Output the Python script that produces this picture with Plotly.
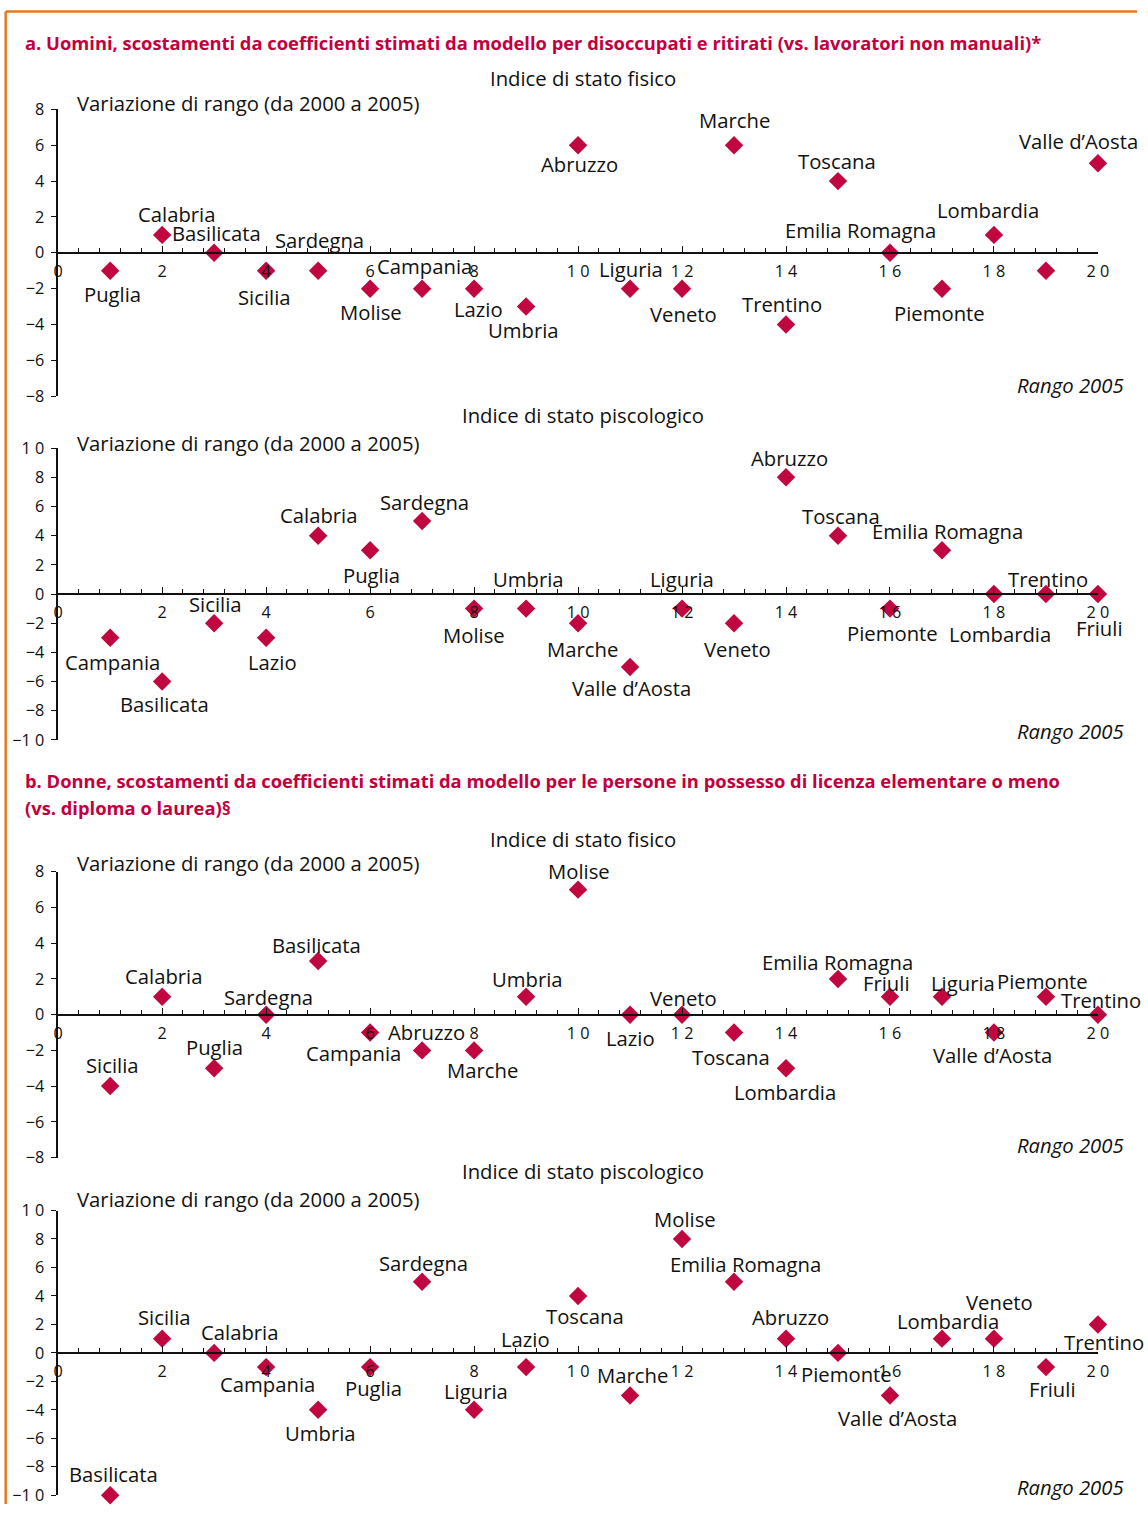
import plotly.graph_objects as go

# ---------------- DATA ----------------
# Panel a1: Uomini - Indice di stato fisico
a1_regions = ["Puglia", "Calabria", "Basilicata", "Sicilia", "Sardegna", "Molise", "Campania",
              "Lazio", "Umbria", "Abruzzo", "Liguria", "Veneto", "Marche", "Trentino",
              "Toscana", "Emilia Romagna", "Piemonte", "Lombardia", "Friuli", "Valle d\u2019Aosta"]
a1_rank2005 = [1, 2, 3, 4, 5, 6, 7, 8, 9, 10, 11, 12, 13, 14, 15, 16, 17, 18, 19, 20]
a1_change = [-1, 1, 0, -1, -1, -2, -2, -2, -3, 6, -2, -2, 6, -4, 4, 0, -2, 1, -1, 5]
a1_show = [True] * 18 + [False, True]

# Panel a2: Uomini - Indice di stato psicologico
a2_regions = ["Campania", "Basilicata", "Sicilia", "Lazio", "Calabria", "Puglia", "Sardegna",
              "Molise", "Umbria", "Marche", "Valle d\u2019Aosta", "Liguria", "Veneto", "Abruzzo",
              "Toscana", "Piemonte", "Emilia Romagna", "Lombardia", "Trentino", "Friuli"]
a2_rank2005 = [1, 2, 3, 4, 5, 6, 7, 8, 9, 10, 11, 12, 13, 14, 15, 16, 17, 18, 19, 20]
a2_change = [-3, -6, -2, -3, 4, 3, 5, -1, -1, -2, -5, -1, -2, 8, 4, -1, 3, 0, 0, 0]

# Panel b1: Donne - Indice di stato fisico
b1_regions = ["Sicilia", "Calabria", "Puglia", "Sardegna", "Basilicata", "Campania", "Abruzzo",
              "Marche", "Umbria", "Molise", "Lazio", "Veneto", "Toscana", "Lombardia",
              "Emilia Romagna", "Friuli", "Liguria", "Valle d\u2019Aosta", "Piemonte", "Trentino"]
b1_rank2005 = [1, 2, 3, 4, 5, 6, 7, 8, 9, 10, 11, 12, 13, 14, 15, 16, 17, 18, 19, 20]
b1_change = [-4, 1, -3, 0, 3, -1, -2, -2, 1, 7, 0, 0, -1, -3, 2, 1, 1, -1, 1, 0]

# Panel b2: Donne - Indice di stato psicologico
b2_regions = ["Basilicata", "Sicilia", "Calabria", "Campania", "Umbria", "Puglia", "Sardegna",
              "Liguria", "Lazio", "Toscana", "Marche", "Molise", "Emilia Romagna", "Abruzzo",
              "Piemonte", "Valle d\u2019Aosta", "Lombardia", "Veneto", "Friuli", "Trentino"]
b2_rank2005 = [1, 2, 3, 4, 5, 6, 7, 8, 9, 10, 11, 12, 13, 14, 15, 16, 17, 18, 19, 20]
b2_change = [-10, 1, 0, -1, -4, -1, 5, -4, -1, 4, -3, 8, 5, 1, 0, -3, 1, 1, -1, 2]

x_tickvals = [0, 2, 4, 6, 8, 10, 12, 14, 16, 18, 20]
x_ticktext = ["0", "2", "4", "6", "8", "1 0", "1 2", "1 4", "1 6", "1 8", "2 0"]
y8_tickvals = [-8, -6, -4, -2, 0, 2, 4, 6, 8]
y8_ticktext = ["\u22128", "\u22126", "\u22124", "\u22122", "0", "2", "4", "6", "8"]
y10_tickvals = [-10, -8, -6, -4, -2, 0, 2, 4, 6, 8, 10]
y10_ticktext = ["\u22121 0", "\u22128", "\u22126", "\u22124", "\u22122", "0", "2", "4", "6", "8", "1 0"]

# ---------------- STYLE ----------------
W, H = 1148, 1515
RED = "#c2003d"
MARK = "#c0073f"
ORANGE = "#e8791e"
FONT = "Open Sans"

# the photographed page is slightly scaled/offset; map target pixel positions to page pixels
S, OX, OY = 0.9863, 3.8, 10.5
def fx(p):          # target x pixel -> paper fraction
    return ((p - OX) / S) / W
def fy(p):          # target y pixel -> paper fraction
    return 1 - ((p - OY) / S) / H
def sz(v):
    return v / S

LBL = sz(20)
TXT = sz(20)
TICK = sz(16)

# label offsets in target pixels (dx right, dy down) relative to marker centre
a1_off = {"Puglia": (2, 23), "Calabria": (14, -21), "Basilicata": (2, -20), "Sicilia": (-2, 26),
          "Sardegna": (1, -30), "Molise": (1, 23), "Campania": (2, -22), "Lazio": (4, 20),
          "Umbria": (-3, 23), "Abruzzo": (1, 18), "Liguria": (1, -19), "Veneto": (1, 25),
          "Marche": (0, -25), "Trentino": (-4, -20), "Toscana": (-1, -20),
          "Emilia Romagna": (-29, -22), "Piemonte": (-2, 24), "Lombardia": (-6, -25),
          "Friuli": (0, 0), "Valle d\u2019Aosta": (-19, -22)}
a2_off = {"Campania": (2, 24), "Basilicata": (2, 22), "Sicilia": (1, -19), "Lazio": (6, 24),
          "Calabria": (0, -20), "Puglia": (1, 24), "Sardegna": (2, -19), "Molise": (0, 26),
          "Umbria": (2, -29), "Marche": (4, 25), "Valle d\u2019Aosta": (1, 21), "Liguria": (0, -29),
          "Veneto": (3, 25), "Abruzzo": (3, -19), "Toscana": (3, -19), "Piemonte": (2, 24),
          "Emilia Romagna": (5, -19), "Lombardia": (6, 39), "Trentino": (2, -15), "Friuli": (2, 34)}
b1_off = {"Sicilia": (2, -21), "Calabria": (1, -21), "Puglia": (0, -21), "Sardegna": (2, -17),
          "Basilicata": (-2, -16), "Campania": (-16, 20), "Abruzzo": (4, -18), "Marche": (8, 19),
          "Umbria": (1, -18), "Molise": (1, -18), "Lazio": (0, 23), "Veneto": (1, -16),
          "Toscana": (-3, 24), "Lombardia": (-1, 23), "Emilia Romagna": (0, -17),
          "Friuli": (-3, -14), "Liguria": (21, -14), "Valle d\u2019Aosta": (-1, 22),
          "Piemonte": (-3, -16), "Trentino": (3, -14)}
b2_off = {"Basilicata": (3, -21), "Sicilia": (2, -21), "Calabria": (25, -21), "Campania": (1, 17),
          "Umbria": (2, 23), "Puglia": (3, 21), "Sardegna": (1, -18), "Liguria": (2, -19),
          "Lazio": (-1, -28), "Toscana": (7, 20), "Marche": (2, -20), "Molise": (3, -20),
          "Emilia Romagna": (11, -17), "Abruzzo": (4, -21), "Piemonte": (8, 21),
          "Valle d\u2019Aosta": (7, 22), "Lombardia": (6, -17), "Veneto": (5, -36),
          "Friuli": (6, 22), "Trentino": (6, 17)}

panels = [
    dict(top=109, bot=396, yr=[-8, 8], tv=y8_tickvals, tt=y8_ticktext,
         reg=a1_regions, x=a1_rank2005, y=a1_change, off=a1_off, show=a1_show,
         sub_y=78, sub="Indice di stato fisico", var_y=103, rango_y=385),
    dict(top=448, bot=740, yr=[-10, 10], tv=y10_tickvals, tt=y10_ticktext,
         reg=a2_regions, x=a2_rank2005, y=a2_change, off=a2_off, show=None,
         sub_y=415, sub="Indice di stato piscologico", var_y=443, rango_y=731),
    dict(top=872, bot=1158, yr=[-8, 8], tv=y8_tickvals, tt=y8_ticktext,
         reg=b1_regions, x=b1_rank2005, y=b1_change, off=b1_off, show=None,
         sub_y=839, sub="Indice di stato fisico", var_y=863, rango_y=1145),
    dict(top=1211, bot=1496, yr=[-10, 10], tv=y10_tickvals, tt=y10_ticktext,
         reg=b2_regions, x=b2_rank2005, y=b2_change, off=b2_off, show=None,
         sub_y=1171, sub="Indice di stato piscologico", var_y=1199, rango_y=1488),
]

X0, X1 = 57, 1097

fig = go.Figure()
layout = dict(width=W, height=H, autosize=False, margin=dict(l=0, r=0, t=0, b=0),
              paper_bgcolor="white", plot_bgcolor="rgba(0,0,0,0)", showlegend=False,
              font=dict(family=FONT, color="#111111"))
annotations = []
shapes = []

for i, p in enumerate(panels, start=1):
    sx = "" if i == 1 else str(i)
    xa, ya = "x" + sx, "y" + sx
    fig.add_trace(go.Scatter(
        x=p["x"], y=p["y"], mode="markers", xaxis=xa, yaxis=ya,
        marker=dict(symbol="diamond", size=sz(14), color=MARK, line=dict(width=0)),
        cliponaxis=False, hoverinfo="text", text=p["reg"]))
    d0, d1 = fy(p["bot"]), fy(p["top"])
    r0, r1 = p["yr"]
    zero_pos = d0 + (0 - r0) / (r1 - r0) * (d1 - d0)
    layout["xaxis" + sx] = dict(
        domain=[fx(X0), fx(X1)], range=[0, 20], anchor="free", position=zero_pos,
        showline=True, linecolor="#111", linewidth=1.5, showgrid=False, zeroline=False,
        tickvals=x_tickvals, ticktext=x_ticktext, ticks="inside", ticklen=6,
        tickcolor="#111", tickfont=dict(family=FONT, size=TICK, color="#111"),
        ticklabelstandoff=4,
        minor=dict(dtick=0.4, tick0=0, ticks="inside", ticklen=4, tickcolor="#111", showgrid=False),
        fixedrange=True)
    layout["yaxis" + sx] = dict(
        domain=[d0, d1], range=p["yr"], anchor=xa, showline=True, linecolor="#111",
        linewidth=1.5, showgrid=False, zeroline=False, tickvals=p["tv"], ticktext=p["tt"],
        ticks="outside", ticklen=5, tickcolor="#111", ticklabelstandoff=4,
        tickfont=dict(family=FONT, size=TICK, color="#111"), fixedrange=True)
    for j, name in enumerate(p["reg"]):
        if p["show"] is not None and not p["show"][j]:
            continue
        dx, dy = p["off"][name]
        annotations.append(dict(
            x=p["x"][j], y=p["y"][j], xref=xa, yref=ya, text=name, showarrow=False,
            xshift=sz(dx), yshift=-sz(dy), xanchor="center", yanchor="middle",
            font=dict(family=FONT, size=LBL, color="#111")))
    annotations.append(dict(x=fx(582), y=fy(p["sub_y"]), xref="paper", yref="paper",
                            text=p["sub"], showarrow=False, xanchor="center", yanchor="middle",
                            font=dict(family=FONT, size=TXT, color="#111")))
    annotations.append(dict(x=fx(74), y=fy(p["var_y"]), xref="paper", yref="paper",
                            text="Variazione di rango (da 2000 a 2005)", showarrow=False,
                            xanchor="left", yanchor="middle",
                            font=dict(family=FONT, size=TXT, color="#111")))
    annotations.append(dict(x=fx(1125), y=fy(p["rango_y"]), xref="paper", yref="paper",
                            text="<i>Rango 2005</i>", showarrow=False, xanchor="right",
                            yanchor="middle", font=dict(family=FONT, size=TXT, color="#111")))

titles = [
    ("a. Uomini, scostamenti da coefficienti stimati da modello per disoccupati e ritirati (vs. lavoratori non manuali)*", 42),
    ("b. Donne, scostamenti da coefficienti stimati da modello per le persone in possesso di licenza elementare o meno", 781),
    ("(vs. diploma o laurea)\u00a7", 808),
]
for t, yy in titles:
    annotations.append(dict(x=fx(22), y=fy(yy), xref="paper", yref="paper", text="<b>" + t + "</b>",
                            showarrow=False, xanchor="left", yanchor="middle",
                            font=dict(family=FONT, size=sz(18.1), color=RED)))

# orange frame (top and left)
shapes.append(dict(type="line", xref="paper", yref="paper", x0=fx(4.5), x1=1, y0=fy(11), y1=fy(11),
                   line=dict(color=ORANGE, width=2.5)))
shapes.append(dict(type="line", xref="paper", yref="paper", x0=fx(4.5), x1=fx(4.5), y0=fy(11), y1=0,
                   line=dict(color=ORANGE, width=2.5)))

layout["annotations"] = annotations
layout["shapes"] = shapes
fig.update_layout(**layout)
fig.write_html("out.html", config={"displayModeBar": False},
               post_script="document.body.style.margin='0';")
